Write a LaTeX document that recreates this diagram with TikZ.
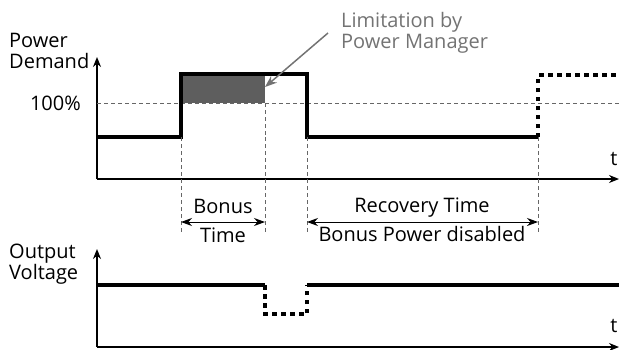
\documentclass[tikz,border=0pt]{standalone}
\usepackage{fontspec}
\setmainfont{Open Sans}
\usetikzlibrary{arrows.meta,positioning}

\begin{document}
\begin{tikzpicture}[x=1pt, y=-1pt, >=Stealth,
  axis/.style={-{Stealth[length=10pt,width=8pt]}, line width=1.3pt},
  signal/.style={line width=3.3pt, line join=miter},
  dotsig/.style={line width=3.3pt, dash pattern=on 4.5pt off 4.5pt},
  guide/.style={gray!80!black, line width=0.7pt, dash pattern=on 4pt off 3pt},
  span/.style={{Stealth[length=11pt,width=8pt]}-{Stealth[length=11pt,width=8pt]}, line width=0.9pt},
  lbl/.style={align=left, inner sep=0pt, font=\fontsize{20}{20.8}\selectfont},
  txt/.style={inner sep=0pt, font=\fontsize{20}{20.8}\selectfont}]
\useasboundingbox (0,0) rectangle (619,349);
% power demand axes
\coordinate (o1) at (97,179);
\coordinate (y1) at (97,57);
\coordinate (x1) at (619,179);
\draw[axis] (o1) -- (y1);
\draw[axis] (o1) -- (x1);
\node[lbl, anchor=north west] (pd) at (9,33) {Power\\Demand};
\node[txt, anchor=base] (t1) at (614,165) {t};
% 100% level
\coordinate (l0) at (97,103);
\coordinate (l1) at (619,103);
\draw[guide] (l0) -- (l1);
\node[txt, anchor=base east] (pct) at (81,110) {100\%};
% limited region
\fill[gray!60!black!90] (181,74) rectangle (265,103);
% demand signal
\coordinate (a0) at (97,137);
\coordinate (a1) at (181,137);
\coordinate (a2) at (181,74);
\coordinate (a3) at (307,74);
\coordinate (a4) at (307,137);
\coordinate (a5) at (538,137);
\coordinate (a6) at (538,75);
\coordinate (a7) at (619,75);
\draw[signal] (a0) -- (a1) -- (a2) -- (a3) -- (a4) -- (a5);
\draw[dotsig] (a5) -- (a6) -- (a7);
% guides
\foreach \x in {181,265,307,538}{\draw[guide] (\x,137) -- (\x,234);}
\draw[guide] (265,103) -- (265,137);
% time spans
\coordinate (b0) at (181,222);
\coordinate (b1) at (265,222);
\coordinate (r0) at (307,222);
\coordinate (r1) at (538,222);
\draw[span] (b0) -- (b1);
\draw[span] (r0) -- (r1);
\node[txt, anchor=base] (bonus) at (223,213) {Bonus};
\node[txt, anchor=base] (btime) at (223,242) {Time};
\node[txt, anchor=base] (rtime) at (422,212) {Recovery Time};
\node[txt, anchor=base] (bpd) at (422,241) {Bonus Power disabled};
% limitation note
\node[lbl, text=gray!90!black, anchor=north west] (note) at (341,12) {Limitation by\\Power Manager};
\coordinate (tip) at (265,87);
\draw[gray!90!black, line width=1.5pt, -{Stealth[length=12pt,width=9pt]}] (328,33) -- (tip);
% output voltage axes
\coordinate (o2) at (97,347);
\coordinate (y2) at (97,249);
\coordinate (x2) at (619,347);
\draw[axis] (o2) -- (y2);
\draw[axis] (o2) -- (x2);
\node[lbl, anchor=north west] (ov) at (9,244) {Output\\Voltage};
\node[txt, anchor=base] (t2) at (614,332) {t};
% voltage signal
\coordinate (v0) at (97,285);
\coordinate (v1) at (265,285);
\coordinate (v2) at (265,314);
\coordinate (v3) at (307,314);
\coordinate (v4) at (307,285);
\coordinate (v5) at (619,285);
\draw[signal] (v0) -- (v1);
\draw[dotsig] (v1) -- (v2) -- (v3) -- (v4);
\draw[signal] (v4) -- (v5);
\end{tikzpicture}
\end{document}
